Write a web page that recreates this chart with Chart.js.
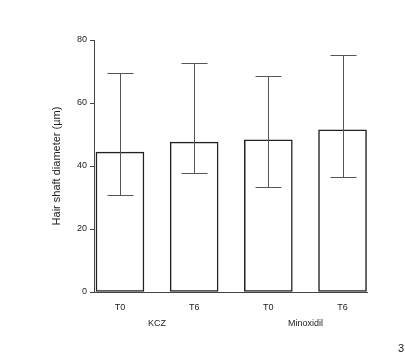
<!DOCTYPE html>
<html>
<head>
<meta charset="utf-8">
<script src="https://cdn.jsdelivr.net/npm/chart.js@4"></script>
<style>
  body { margin: 0; background: #fff; }
  #wrap { position: relative; width: 405px; height: 354px; }
  #pg { position: absolute; left: 398px; top: 342px; font: 11px "Liberation Sans", Arial, sans-serif; color: #222; }
</style>
</head>
<body>
<div id="wrap">
  <canvas id="myChart"></canvas>
  <div id="pg">3</div>
</div>
<script>
// values (µm)
const timeLabels = ["T0", "T6", "T0", "T6"]
const groups = ["KCZ", "Minoxidil"]
const groupPos = [0.5, 2.5]
const means = [44.4, 47.6, 48.3, 51.5]
const upper = [69.4, 72.7, 68.7, 75.2]
const lower = [30.8, 37.7, 33.4, 36.4]
const yTicks = [0, 20, 40, 60, 80]

const ink = "#222"
const font = { family: "'Liberation Sans', Arial, sans-serif", size: 9 }

// error bars drawn with the chart's own scales
const errorBars = {
  id: "errorBars",
  afterDatasetsDraw(chart) {
    const ctx = chart.ctx
    const y = chart.scales.y
    const meta = chart.getDatasetMeta(0)
    ctx.save()
    ctx.strokeStyle = "#555"
    ctx.lineWidth = 1
    meta.data.forEach(function (bar, i) {
      const x = Math.round(bar.x) + 0.5
      const hi = Math.round(y.getPixelForValue(upper[i])) + 0.5
      const lo = Math.round(y.getPixelForValue(lower[i])) + 0.5
      const cap = 13
      ctx.beginPath()
      ctx.moveTo(x, hi); ctx.lineTo(x, lo)
      ctx.moveTo(x - cap, hi); ctx.lineTo(x + cap, hi)
      ctx.moveTo(x - cap, lo); ctx.lineTo(x + cap, lo)
      ctx.stroke()
    })
    ctx.restore()
  }
}

const chart = new Chart("myChart", {
  type: "bar",
  data: {
    datasets: [{
      data: means.map(function (v, i) { return { x: i, y: v } }),
      backgroundColor: "#fff",
      borderColor: ink,
      borderWidth: 1.5,
      borderSkipped: false,
      barThickness: 48
    }]
  },
  options: {
    responsive: true,
    maintainAspectRatio: false,
    animation: false,
    layout: { padding: { left: 47, top: 40, right: 38, bottom: 0 } },
    plugins: { legend: { display: false }, tooltip: { enabled: false } },
    scales: {
      x: {
        type: "linear",
        offset: false,
        min: -0.35,
        max: 3.33,
        afterFit: function (s) { s.height = 62 },
        afterBuildTicks: function (s) {
          const vals = [0, 1, 2, 3].concat(groupPos).sort()
          s.ticks = vals.map(function (v) { return { value: v } })
        },
        grid: { display: false, drawTicks: false },
        border: { display: true, color: "#444", width: 1 },
        ticks: {
          autoSkip: false,
          maxRotation: 0,
          padding: 8,
          color: ink,
          font: Object.assign({ lineHeight: 1.75 }, font),
          callback: function (v) {
            const g = groupPos.indexOf(v)
            if (g >= 0) return ["", groups[g]]
            return timeLabels[v]
          }
        }
      },
      y: {
        min: 0,
        max: 80,
        afterFit: function (s) { s.width = 47 },
        afterBuildTicks: function (s) {
          s.ticks = yTicks.map(function (v) { return { value: v } })
        },
        grid: { drawOnChartArea: false, drawTicks: true, tickLength: 4, color: "#444" },
        border: { display: true, color: "#444", width: 1 },
        ticks: { padding: 3, color: ink, font: font },
        title: {
          display: true,
          text: "Hair shaft diameter (µm)",
          color: ink,
          font: { family: font.family, size: 11 },
          padding: 3
        }
      }
    }
  },
  plugins: [errorBars]
})
</script>
</body>
</html>
